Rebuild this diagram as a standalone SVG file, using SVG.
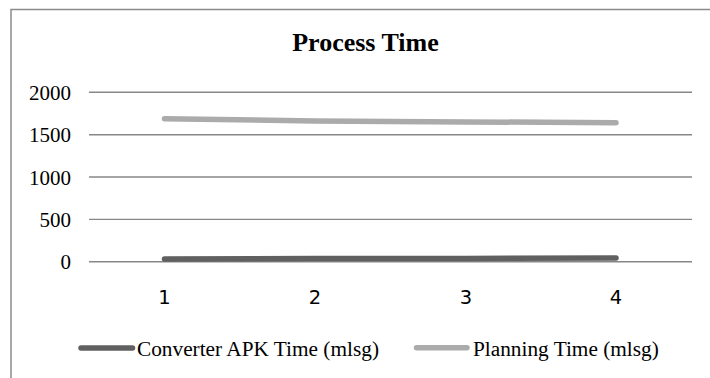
<svg xmlns="http://www.w3.org/2000/svg" width="710" height="378" viewBox="0 0 710 378">
<style>
.grid{stroke:#878787;stroke-width:1.4;fill:none}
.serif{font-family:"Liberation Serif",Tinos,"Times New Roman",Times,"Nimbus Roman","DejaVu Serif",serif}
.ylab{font-size:21px;fill:#000;text-anchor:end}
.xlab{font-family:"DejaVu Sans",sans-serif;font-size:19.5px;fill:#000;text-anchor:middle}
.leg{font-size:21.3px;fill:#000}
.s1{stroke:#606060;stroke-width:5.5;fill:none;stroke-linecap:round;stroke-linejoin:round}
.s2{stroke:#ababab;stroke-width:5.5;fill:none;stroke-linecap:round;stroke-linejoin:round}
</style>
<rect x="0" y="0" width="710" height="378" fill="#fff"/>
<g id="frame">
<path d="M11 379 V9.5 H711" stroke="#8a8a8a" stroke-width="1.5" fill="none"/>
</g>
<g id="title">
<text class="serif" x="365.5" y="51" font-size="26" font-weight="bold" text-anchor="middle">Process Time</text>
</g>
<g id="gridlines">
<line class="grid" x1="89" y1="92.3" x2="692" y2="92.3"/>
<line class="grid" x1="89" y1="134.7" x2="692" y2="134.7"/>
<line class="grid" x1="89" y1="177" x2="692" y2="177"/>
<line class="grid" x1="89" y1="219.4" x2="692" y2="219.4"/>
<line class="grid" x1="89" y1="261.7" x2="692" y2="261.7"/>
</g>
<g id="y-axis">
<text class="serif ylab" x="71" y="100">2000</text>
<text class="serif ylab" x="71" y="142.4">1500</text>
<text class="serif ylab" x="71" y="184.7">1000</text>
<text class="serif ylab" x="71" y="227.1">500</text>
<text class="serif ylab" x="71" y="269.4">0</text>
</g>
<g id="x-axis">
<text class="xlab" x="164.5" y="304">1</text>
<text class="xlab" x="315" y="304">2</text>
<text class="xlab" x="466" y="304">3</text>
<text class="xlab" x="616" y="304">4</text>
</g>
<g id="series">
<polyline id="converter-series" class="s1" points="164.5,259 315,258.6 466,258.4 616,258"/>
<polyline id="planning-series" class="s2" points="164.5,118.7 315,121 466,121.9 616,122.7"/>
</g>
<g id="legend">
<g id="legend-converter">
<line class="s1" x1="81" y1="348" x2="132.5" y2="348"/>
<text class="serif leg" x="137" y="356">Converter APK Time (mlsg)</text>
</g>
<g id="legend-planning">
<line class="s2" x1="416.5" y1="347.7" x2="467" y2="347.7"/>
<text class="serif leg" x="473" y="356">Planning Time (mlsg)</text>
</g>
</g>
</svg>
